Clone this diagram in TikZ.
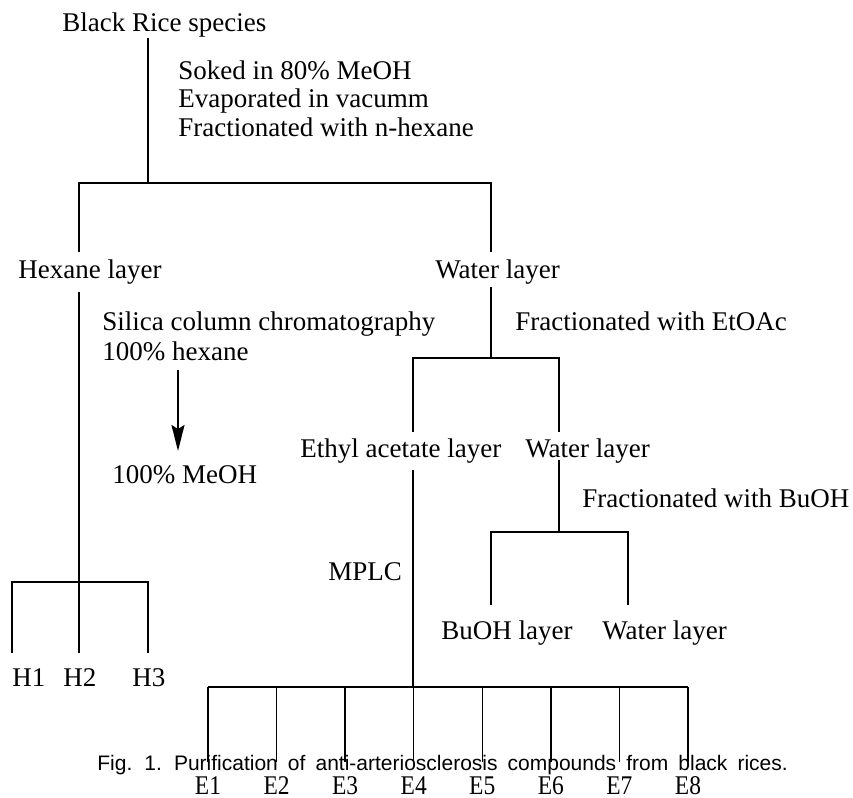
\documentclass[tikz,border=0pt]{standalone}
\usepackage{fontspec}
\setmainfont{Liberation Serif}
\newfontfamily\capfont{Liberation Sans}
\newfontfamily\narrowfont[FakeStretch=0.87]{Liberation Serif}
\usetikzlibrary{arrows.meta}
\tikzset{
    x=5pt, y=-5pt, font=\fontsize{13.5}{14.25}\selectfont,
    txt/.style={anchor=base west, inner sep=0pt, align=left},
    frac/.style={anchor=base, inner sep=0pt,
                 font=\narrowfont\fontsize{13.5}{14.25}\selectfont},
    ln/.style={line width=0.8pt, black},
    elu/.style={-{Stealth[length=13pt, width=6.5pt, inset=2pt]},
                line width=1pt},
    figcap/.style={anchor=base west, inner sep=0pt,
                   font=\capfont\fontsize{10.5}{12}\selectfont},
}
\begin{document}
\begin{tikzpicture}
    \useasboundingbox (0,0) rectangle (85.3,79.8);

    % texts (multi-line nodes sit on their last baseline)
    \node[txt] (rice) at (6.2,3.1) {Black Rice species};
    \node[txt] (step1) at (17.8,13.6) {Soked in 80\% MeOH\\
        Evaporated in vacumm\\Fractionated with n-hexane};
    \node[txt] (hex) at (1.8,27.8) {Hexane layer};
    \node[txt] (wat1) at (43.5,27.8) {Water layer};
    \node[txt] (silica) at (10.2,36.0)
        {Silica column chromatography\\[0.75pt]100\% hexane};
    \node[txt] (meoh) at (11.2,48.3) {100\% MeOH};
    \node[txt] (step2) at (51.5,33.0) {Fractionated with EtOAc};
    \node[txt] (ethyl) at (30.0,45.7) {Ethyl acetate layer};
    \node[txt] (wat2) at (52.5,45.7) {Water layer};
    \node[txt] (step3) at (58.2,50.7) {Fractionated with BuOH};
    \node[txt] (buoh) at (44.1,63.9) {BuOH layer};
    \node[txt] (wat3) at (60.2,63.9) {Water layer};
    \node[txt] (mplc) at (32.8,58.0) {MPLC};
    \node[txt] (h1) at (1.2,68.6) {H1};
    \node[txt] (h2) at (6.3,68.6) {H2};
    \node[txt] (h3) at (13.2,68.6) {H3};

    % first split
    \coordinate (r0) at (14.8,3.8);
    \coordinate (r1) at (14.8,18.3);
    \coordinate (hx0) at (7.9,25.2);
    \coordinate (wt0) at (49.1,25.2);
    \draw[ln] (r0) -- (r1);
    \draw[ln] (hx0) -- (hx0 |- r1) -- (wt0 |- r1) -- (wt0);

    % hexane side
    \coordinate (hx1) at (7.9,29.2);
    \coordinate (hb) at (7.9,58.2);
    \coordinate (hx2) at (7.9,65.3);
    \coordinate (ha) at (1.2,65.3);
    \coordinate (hc) at (14.8,65.3);
    \draw[ln] (hx1) -- (hx2);
    \draw[ln] (ha) -- (ha |- hb) -- (hc |- hb) -- (hc);
    \coordinate (el0) at (17.8,37.0);
    \coordinate (el1) at (17.8,45.1);
    \draw[elu] (el0) -- (el1);

    % water side
    \coordinate (wt1) at (49.1,28.7);
    \coordinate (wt2) at (49.1,35.8);
    \coordinate (et0) at (41.3,43.2);
    \coordinate (wu0) at (55.9,43.2);
    \draw[ln] (wt1) -- (wt2);
    \draw[ln] (et0) -- (et0 |- wt2) -- (wu0 |- wt2) -- (wu0);

    \coordinate (wu1) at (55.9,46.0);
    \coordinate (wu2) at (55.9,53.2);
    \coordinate (bu0) at (49.1,60.5);
    \coordinate (wv0) at (62.8,60.5);
    \draw[ln] (wu1) -- (wu2);
    \draw[ln] (bu0) -- (bu0 |- wu2) -- (wv0 |- wu2) -- (wv0);

    % MPLC fractions
    \coordinate (et1) at (41.3,47.0);
    \coordinate (et2) at (41.3,68.7);
    \draw[ln] (et1) -- (et2);
    \coordinate (ea) at (20.8,68.7);
    \coordinate (eb) at (68.8,68.7);
    \draw[ln] (ea) -- (eb);
    \node[figcap] (fig) at (9.7,77.0)
        {\spaceskip=5.05pt Fig. 1. Purification of anti-arteriosclerosis
         compounds from black rices.};
    \foreach \i in {1,...,8} {
        \coordinate (f\i) at ({20.8+6.857*(\i-1)},68.7);
        \coordinate (g\i) at ({20.8+6.857*(\i-1)},76.2);
        \draw[ln, line width=0.7pt] (f\i) -- (g\i);
        \node[frac] (e\i) at ({20.8+6.857*(\i-1)},79.4) {E\i};
    }
\end{tikzpicture}
\end{document}
